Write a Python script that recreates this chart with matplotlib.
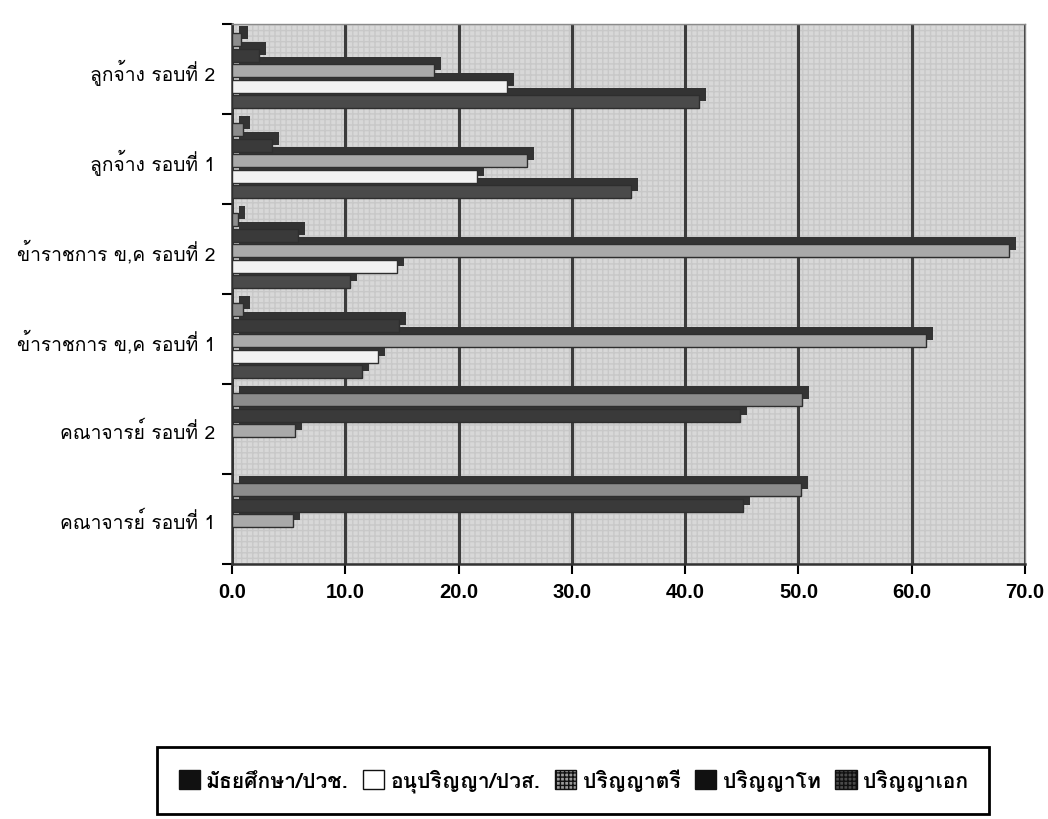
import numpy as np
import matplotlib
matplotlib.use('Agg')
from matplotlib import pyplot as plt
from matplotlib import font_manager
from matplotlib import patheffects
from fontTools.ttLib import TTFont

# categories from bottom to top, as in the chart
categories = ['คณาจารย์ รอบที่ 1', 'คณาจารย์ รอบที่ 2',
              'ข้าราชการ ข,ค รอบที่ 1', 'ข้าราชการ ข,ค รอบที่ 2',
              'ลูกจ้าง รอบที่ 1', 'ลูกจ้าง รอบที่ 2']

series_names = ['มัธยศึกษา/ปวช.', 'อนุปริญญา/ปวส.', 'ปริญญาตรี', 'ปริญญาโท', 'ปริญญาเอก']

matthayom = [0.0, 0.0, 11.5, 10.4, 35.2, 41.2]
anuparinya = [0.0, 0.0, 12.9, 14.6, 21.6, 24.3]
parinya_tri = [5.4, 5.6, 61.3, 68.6, 26.0, 17.8]
parinya_tho = [45.1, 44.8, 14.7, 5.8, 3.5, 2.4]
parinya_ek = [50.2, 50.3, 1.0, 0.5, 1.0, 0.8]

x_ticks = [0, 10, 20, 30, 40, 50, 60, 70]

colors = ['#4a4a4a', '#f2f2f2', '#a9a9a9', '#3a3a3a', '#8c8c8c']


def find_thai_font():
    # pick any installed font that has Thai glyphs
    for f in font_manager.fontManager.ttflist:
        try:
            cmap = TTFont(f.fname, fontNumber=0, lazy=True).getBestCmap()
        except Exception:
            continue
        if cmap and ord('ก') in cmap:
            return f.name
    return None


thai = find_thai_font()
families = [thai, 'DejaVu Sans'] if thai else ['DejaVu Sans']

fig = plt.figure(figsize=(10.48, 8.2), dpi=100)
ax = fig.add_axes([0.2214, 0.311, 0.7567, 0.6585])

ax.set_facecolor('#d8d8d8')
ax.patch.set_hatch('+++')
ax.patch.set_edgecolor('#c8c8c8')

values = [matthayom, anuparinya, parinya_tri, parinya_tho, parinya_ek]
y = np.arange(len(categories))
step = 0.172
bar_h = 0.145

shadow = [patheffects.SimplePatchShadow(offset=(5, 5), shadow_rgbFace='#333333', alpha=1.0),
          patheffects.Normal()]

for i, vals in enumerate(values):
    bars = ax.barh(y + (i - 2) * step - 0.02, vals, height=bar_h, color=colors[i],
                   edgecolor='#2e2e2e', linewidth=1.0, label=series_names[i], zorder=3)
    for b in bars:
        b.set_path_effects(shadow)

ax.set_xlim(0, 70)
ax.set_ylim(-0.5, len(categories) - 0.5)
ax.set_xticks(x_ticks)
ax.set_xticklabels([f'{t:.1f}' for t in x_ticks], fontsize=14.5, fontweight='bold',
                   family='Liberation Sans')
ax.xaxis.grid(True, color='#3c3c3c', linewidth=2.2, zorder=1)
ax.set_axisbelow(True)

ax.set_yticks(y)
ax.set_yticklabels(categories, fontsize=13.8, family=families)
ax.set_yticks(np.arange(-0.5, len(categories)), minor=True)
ax.tick_params(axis='y', which='major', length=0, pad=12)
ax.tick_params(axis='y', which='minor', length=7, width=1.5, direction='out')
ax.tick_params(axis='x', length=7, width=1.5, direction='out', pad=6)

for side in ['left', 'bottom']:
    ax.spines[side].set_color('#333333')
    ax.spines[side].set_linewidth(1.8)
for side in ['top', 'right']:
    ax.spines[side].set_color('#8a8a8a')
    ax.spines[side].set_linewidth(1.0)

leg = fig.legend(loc='center', bbox_to_anchor=(0.547, 0.047), ncol=5,
                 prop={'family': families, 'size': 15.2, 'weight': 'bold'},
                 handlelength=1.0, handleheight=1.0, handletextpad=0.3,
                 columnspacing=0.7, borderpad=1.0, fancybox=False,
                 edgecolor='black', framealpha=1.0)
leg.get_frame().set_linewidth(2.0)

# legend swatches as printed: solid black, white, checkered gray, black, checkered dark
swatch_faces = ['#111111', '#ffffff', '#9a9a9a', '#111111', '#4a4a4a']
swatch_hatch = [None, None, '++++', None, '++++']
for h, fc, ht in zip(leg.legend_handles, swatch_faces, swatch_hatch):
    h.set_path_effects([])
    h.set_facecolor(fc)
    h.set_edgecolor('#111111')
    h.set_hatch(ht)

fig.savefig('out.png', dpi=100)
